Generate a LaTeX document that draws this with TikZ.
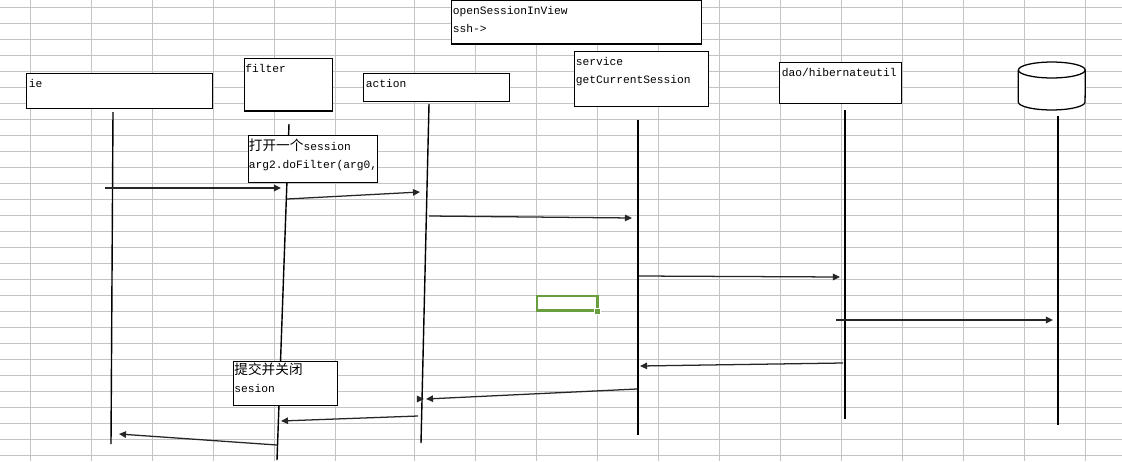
\documentclass[tikz,border=0pt]{standalone}
\usepackage{fontspec}
\setmonofont{Liberation Mono}
\newfontfamily\cjk{Noto Sans CJK SC}
\usetikzlibrary{arrows.meta,fit}
\definecolor{cellgrid}{RGB}{196,196,196}
\definecolor{selgreen}{RGB}{104,158,62}
\newcommand{\zhtext}[1]{{\cjk\fontsize{9.7pt}{12.8pt}\selectfont #1}}

\begin{document}
\begin{tikzpicture}[
  x=0.025cm, y=-0.025cm,
  gridline/.style={cellgrid, line width=0.7pt},
  box/.style={draw=black, fill=white, line width=0.9pt, inner sep=0pt},
  life/.style={black, line width=1pt},
  msg/.style={black!85, line width=0.9pt, -{Triangle[length=5pt,width=4.6pt]}},
  txt/.style={anchor=north west, inner sep=0pt, align=left,
    font={\ttfamily\fontsize{8pt}{12.8pt}\selectfont}}]

  \useasboundingbox (0,0) rectangle (1122,461);
  \fill[white] (0,0) rectangle (1122,461);

  % sheet cells
  \foreach \k in {0,...,28} \draw[gridline] (0,{7.3+16*\k}) -- (1122,{7.3+16*\k});
  \foreach \x in {30.5,91.5,152.5,213.5,274.5,335.5} \draw[gridline] (\x,0) -- (\x,461);
  \foreach \k in {0,...,11} \draw[gridline] ({414.5+61*\k},0) -- ({414.5+61*\k},461);

  % lifelines
  \foreach \n/\xa/\ya/\xb/\yb in {ie/113/112/111/444, filter/289/124/277/460,
      action/429/104/421/443, service/638/120/638/435,
      dao/845/110/845/419, db/1058/116/1058/425} {
    \coordinate (\n-top) at (\xa,\ya);
    \coordinate (\n-bot) at (\xb,\yb);
    \draw[life] (\n-top) -- (\n-bot);
  }

  % calls and returns
  \foreach \n/\xa/\ya/\xb/\yb in {m1/105/188/281/188, m2/287/199/420/192,
      m3/429/216/632/218, m4/639/276/840/277, m5/836/320/1053/320,
      m6/843/363/640/366, m7/637/389/426/399, m8/418/416/281/421,
      m9/277/445/119/434, m10/417/399/424/399} {
    \coordinate (\n-s) at (\xa,\ya);
    \coordinate (\n-e) at (\xb,\yb);
    \draw[msg] (\n-s) -- (\n-e);
  }

  % boxes
  \node[box, fit={(26.3,73.3) (212.3,108.3)}] (ie) {};
  \node[box, fit={(244.3,58.3) (332.3,111)}] (filter) {};
  \node[box, fit={(363.3,73.3) (509.3,101.3)}] (action) {};
  \node[box, fit={(451.7,0.6) (701.3,44)}] (osiv) {};
  \node[box, fit={(574.3,51.7) (708.3,106.3)}] (service) {};
  \node[box, fit={(779.3,62.3) (901.7,103.3)}] (dao) {};
  \node[box, fit={(248.3,135.3) (377.7,182.3)}] (openNote) {};
  \node[box, fit={(233.3,361.3) (337.3,405.3)}] (closeNote) {};

  % database
  \draw[box] (1018.3,70) -- (1018.3,102)
    arc[start angle=180, end angle=360, x radius=23.74pt, y radius=5.67pt]
    -- (1085.3,70);
  \draw[box] (1051.8,70) ellipse [x radius=23.74pt, y radius=5.67pt];

  % texts
  \node[txt] (ieText) at ([shift={(3,1.5)}]ie.north west) {\strut ie};
  \node[txt] (filterText) at ([shift={(1.5,1.5)}]filter.north west) {\strut filter};
  \node[txt] (actionText) at ([shift={(3,1.5)}]action.north west) {\strut action};
  \node[txt] (osivText) at ([shift={(1.5,1.5)}]osiv.north west)
    {\strut openSessionInView\\\strut ssh->};
  \node[txt] (serviceText) at ([shift={(2,1.5)}]service.north west)
    {\strut service\\\strut getCurrentSession};
  \node[txt] (daoText) at ([shift={(3,1.5)}]dao.north west) {\strut dao/hibernateutil};
  \node[txt] (openText) at ([shift={(1,2.8)}]openNote.north west)
    {\strut\zhtext{打开一个}session\\\strut arg2.doFilter(arg0,};
  \node[txt] (closeText) at ([shift={(1.5,1.4)}]closeNote.north west)
    {\strut\zhtext{提交并关闭}\\\strut sesion};

  % selected cell
  \draw[selgreen, line width=2.1pt] (537,296) rectangle (597.6,310.3);
  \fill[selgreen, draw=white, line width=0.4pt] (594.5,308.5) rectangle (600.5,314.5);
\end{tikzpicture}
\end{document}
